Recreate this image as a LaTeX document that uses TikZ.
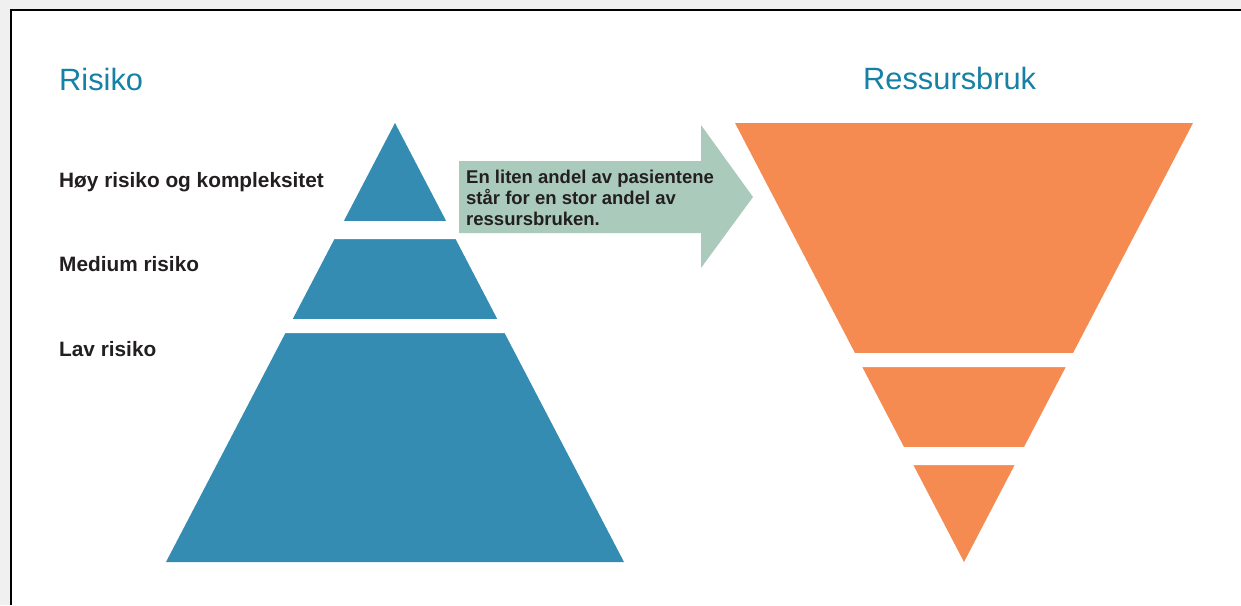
\documentclass[tikz,border=0pt]{standalone}
\usepackage{fontspec}
\setmainfont{Liberation Sans}
\usepackage{xcolor}
\definecolor{bggray}{RGB}{240,240,240}
\definecolor{risikoblue}{RGB}{52,140,178}
\definecolor{ressursorange}{RGB}{246,139,82}
\definecolor{arrowgreen}{RGB}{170,203,187}
\definecolor{titleteal}{RGB}{22,128,165}
\definecolor{textdark}{RGB}{35,31,32}

\begin{document}
\begin{tikzpicture}[x=1pt,y=-1pt]
	\tikzstyle{title} = [anchor=base west, inner sep=0, text=titleteal, font=\fontsize{30.8}{36}\selectfont]
	\tikzstyle{level} = [anchor=base west, inner sep=0, text=textdark, font=\bfseries\fontsize{20.8}{24}\selectfont]
	\tikzstyle{arrowtext} = [anchor=north west, inner sep=0, align=left, text=textdark, font=\bfseries\fontsize{18.5}{21}\selectfont]
	\tikzstyle{gap} = [fill=white]
	\useasboundingbox (0,0) rectangle (1241,605);
	% frame
	\fill[bggray] (0,0) rectangle (1241,605);
	\fill[white] (11,10) rectangle (1241,605);
	\draw[black, line width=2] (11,605) -- (11,10) -- (1241,10);
	% risk pyramid
	\fill[risikoblue] (395,123) -- (624,562) -- (166,562) -- cycle;
	\fill[gap] (160,221) rectangle (630,239)
		 (160,319) rectangle (630,333);
	% resource funnel
	\fill[ressursorange] (735,123) -- (1193,123) -- (964,562) -- cycle;
	\fill[gap] (725,353) rectangle (1205,367)
		 (725,447) rectangle (1205,465);
	% arrow
	\fill[arrowgreen] (459,161) -- (701,161) -- (701,125) -- (753,197)
		-- (701,268) -- (701,233) -- (459,233) -- cycle;
	\node[arrowtext] (andel) at (466,169.5) {En liten andel av pasientene\\står for en stor andel av\\ressursbruken.};
	% labels
	\node[title] (risiko) at (59,90) {Risiko};
	\node[title] (ressurs) at (863,89) {Ressursbruk};
	\node[level] (hoy) at (59,187.3) {Høy risiko og kompleksitet};
	\node[level] (medium) at (59,271.7) {Medium risiko};
	\node[level] (lav) at (59,356) {Lav risiko};
\end{tikzpicture}
\end{document}
